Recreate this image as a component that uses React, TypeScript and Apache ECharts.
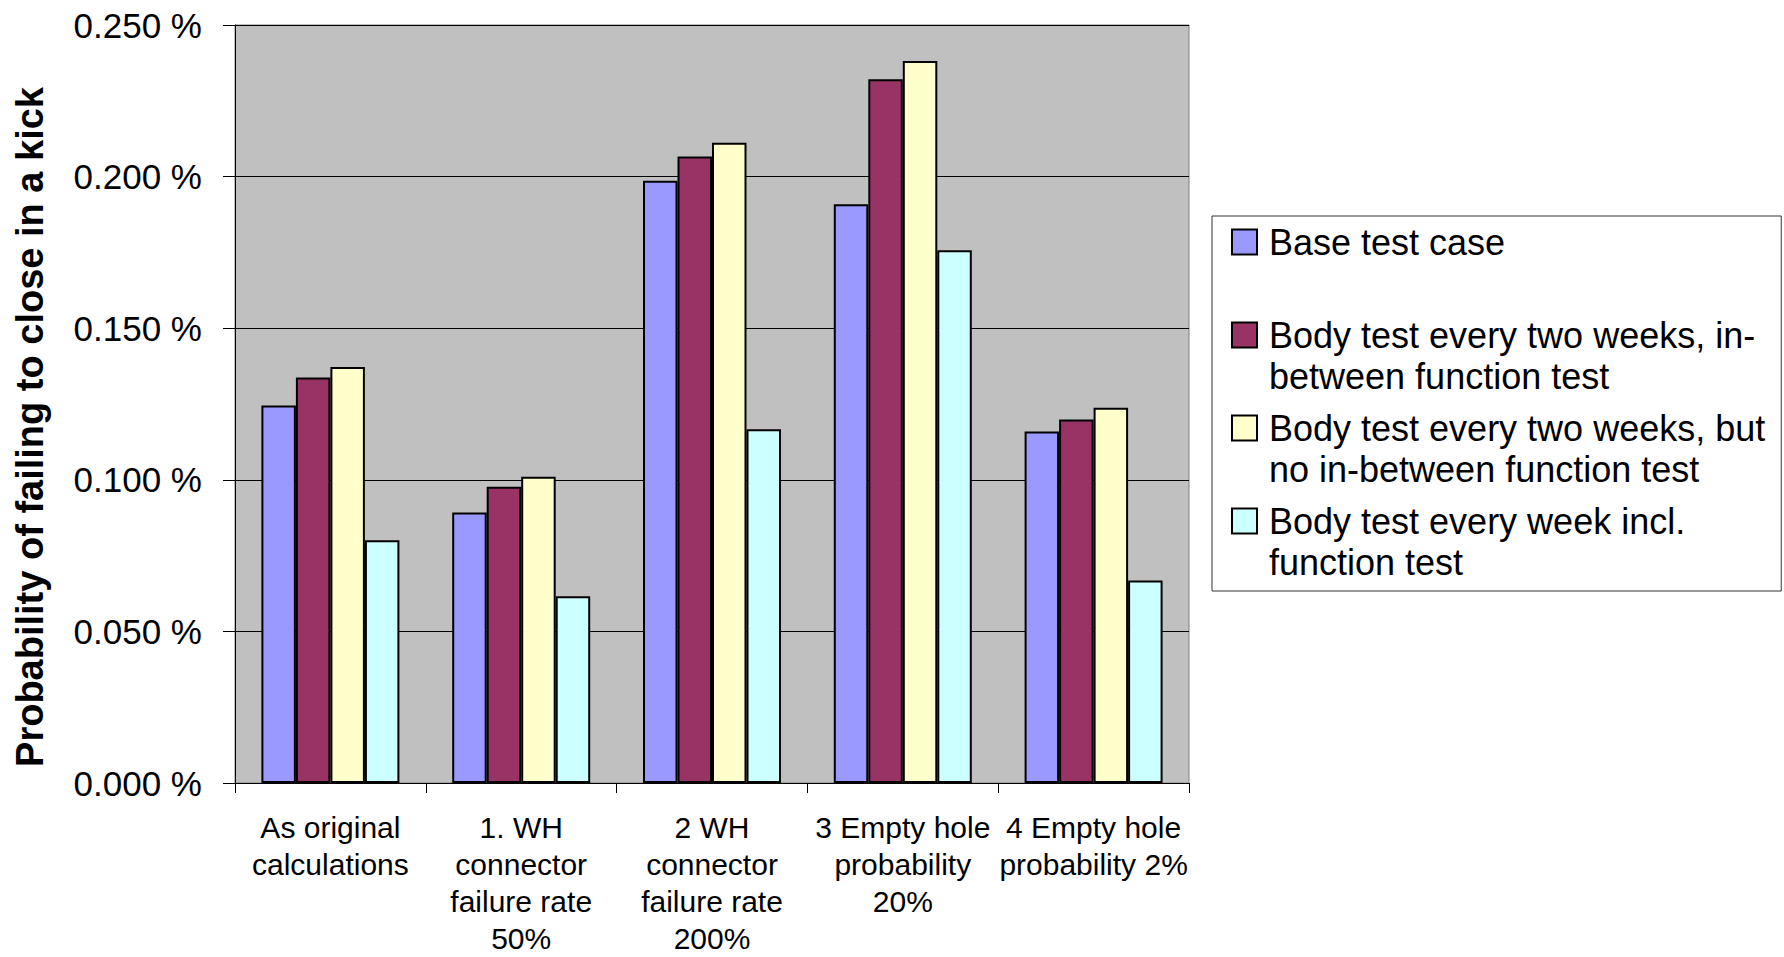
import React, { useEffect, useRef } from "react";
import * as echarts from "echarts";

// Scenario categories shown along the x axis
const categories: string[] = [
  "As original\ncalculations",
  "1. WH\nconnector\nfailure rate\n50%",
  "2 WH\nconnector\nfailure rate\n200%",
  "3 Empty hole\nprobability\n20%",
  "4 Empty hole\nprobability 2%",
];

// Test regimes (legend entries)
const seriesNames: string[] = [
  "Base test case\n",
  "Body test every two weeks, in-\nbetween function test",
  "Body test every two weeks, but\nno in-between function test",
  "Body test every week incl.\nfunction test",
];

// Probability of failing to close in a kick, in percent
const baseCase: number[] = [0.1245, 0.0892, 0.1986, 0.1909, 0.1159];
const twoWeeksInBetween: number[] = [0.1337, 0.0977, 0.2066, 0.2321, 0.1199];
const twoWeeksNoInBetween: number[] = [0.1372, 0.101, 0.2112, 0.2381, 0.1238];
const weeklyWithFunction: number[] = [0.0801, 0.0616, 0.1167, 0.1757, 0.0668];

const seriesValues: number[][] = [baseCase, twoWeeksInBetween, twoWeeksNoInBetween, weeklyWithFunction];
const seriesColors: string[] = ["#9999FF", "#993366", "#FFFFCC", "#CCFFFF"];

const yTicks = { min: 0, max: 0.25, interval: 0.05 };

const FONT = "'Liberation Sans', Arial, Helvetica, sans-serif";

export default function App() {
  const ref = useRef<HTMLDivElement>(null);

  useEffect(() => {
    if (!ref.current) return;
    const chart = echarts.init(ref.current, undefined, { renderer: "svg" });

    chart.setOption({
      animation: false,
      backgroundColor: "#ffffff",
      textStyle: { fontFamily: FONT },
      grid: {
        left: 235,
        right: 595,
        top: 25,
        bottom: 174,
        show: true,
        backgroundColor: "#C0C0C0",
        borderColor: "#808080",
        borderWidth: 1,
      },
      legend: {
        orient: "vertical",
        left: 1212,
        top: 216,
        padding: [5.5, 16, 8.5, 19],
        itemGap: 11,
        itemWidth: 25,
        itemHeight: 66,
        // square swatch sitting at the top of a taller slot, so it lines up with the first text line
        icon: "path://M0,0L25,0L25,25L0,25Z M0,66",
        backgroundColor: "#ffffff",
        borderColor: "#333333",
        borderWidth: 1,
        selectedMode: false,
        itemStyle: { borderColor: "#000000", borderWidth: 2 },
        textStyle: {
          fontFamily: FONT,
          fontSize: 36,
          lineHeight: 41,
          color: "#000000",
          padding: [0, 0, 0, 7],
        },
        data: seriesNames,
      },
      xAxis: {
        type: "category",
        data: categories,
        boundaryGap: true,
        axisLine: { show: true, lineStyle: { color: "#000000", width: 1 } },
        axisTick: { show: true, length: 10, interval: 0, lineStyle: { color: "#000000", width: 1 } },
        axisLabel: {
          interval: 0,
          margin: 26,
          fontFamily: FONT,
          fontSize: 30,
          lineHeight: 37,
          color: "#000000",
          align: "center",
        },
        splitLine: { show: false },
      },
      yAxis: {
        type: "value",
        min: yTicks.min,
        max: yTicks.max,
        interval: yTicks.interval,
        name: "Probability of failing to close in a kick",
        nameLocation: "middle",
        nameRotate: 90,
        nameGap: 183,
        nameTextStyle: {
          fontFamily: FONT,
          fontSize: 38,
          fontWeight: "bold",
          lineHeight: 44,
          color: "#000000",
          padding: [0, 46, 0, 0],
        },
        axisLine: { show: true, lineStyle: { color: "#000000", width: 1 } },
        axisTick: { show: true, length: 12, lineStyle: { color: "#000000", width: 1 } },
        axisLabel: {
          margin: 33,
          fontFamily: FONT,
          fontSize: 35,
          color: "#000000",
          formatter: (v: number) => `${v.toFixed(3)} %`,
        },
        splitLine: { show: true, lineStyle: { color: "#000000", width: 1 } },
      },
      series: seriesNames.map((name, i) => ({
        name,
        type: "bar",
        data: seriesValues[i],
        barWidth: 34.5,
        barGap: "0%",
        itemStyle: {
          color: seriesColors[i],
          borderColor: "#000000",
          borderWidth: 2,
        },
        emphasis: { disabled: true },
      })),
    });

    return () => chart.dispose();
  }, []);

  return (
    <div
      ref={ref}
      style={{ position: "absolute", left: 0, top: 0, width: 1784, height: 957, background: "#ffffff" }}
    />
  );
}
